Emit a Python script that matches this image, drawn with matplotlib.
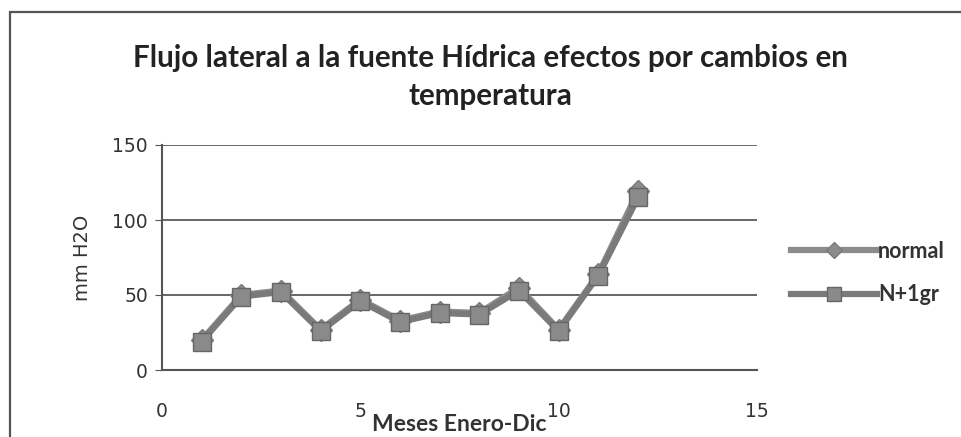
import matplotlib
matplotlib.use("Agg")
import matplotlib.pyplot as plt
from matplotlib.patches import Rectangle

# Monthly lateral flow (mm H2O), January..December
months = [1, 2, 3, 4, 5, 6, 7, 8, 9, 10, 11, 12]
normal = [20, 50, 53, 27, 47, 33, 39, 38, 55, 27, 64, 119]
n_plus_1gr = [19, 49, 52, 26, 46, 32, 38, 37, 53, 26, 63, 115]
series_labels = ["normal", "N+1gr"]
x_ticks = [0, 5, 10, 15]
y_ticks = [0, 50, 100, 150]

W, H = 961, 437
fig = plt.figure(figsize=(W / 100, H / 100), dpi=100)
fig.patch.set_facecolor("white")

# chart frame
fig.patches.append(Rectangle((10 / W, -0.1), 1.2, 1 - 12 / H + 0.1,
                             transform=fig.transFigure, fill=False,
                             edgecolor="#555555", linewidth=1.6))

ax = fig.add_axes([162 / W, 1 - 370 / H, (757 - 162) / W, (370 - 145) / H])
ax.set_xlim(0, 15)
ax.set_ylim(0, 150)
ax.set_xticks(x_ticks)
ax.set_yticks(y_ticks)

for s in ("top", "right"):
    ax.spines[s].set_visible(False)
for s in ("left", "bottom"):
    ax.spines[s].set_color("#555555")
    ax.spines[s].set_linewidth(1.5)

ax.yaxis.grid(True, color="#666666", linewidth=1.4)
ax.set_axisbelow(True)
ax.tick_params(axis="y", length=5, color="#555555", labelsize=13.5,
               labelcolor="#333333", pad=5)
ax.tick_params(axis="x", length=0, labelsize=13.5, labelcolor="#333333", pad=23)
for t in ax.get_xticklabels() + ax.get_yticklabels():
    t.set_family("DejaVu Sans")

ax.plot(months, normal, color="#8c8c8c", linewidth=4.5, marker="D",
        markersize=11, markerfacecolor="#8c8c8c", markeredgecolor="#7a7a7a",
        label=series_labels[0], clip_on=False)
ax.plot(months, n_plus_1gr, color="#7a7a7a", linewidth=4.5, marker="s",
        markersize=13, markerfacecolor="#8a8a8a", markeredgecolor="#666666",
        label=series_labels[1], clip_on=False)

ax.set_ylabel("mm H2O", family="DejaVu Sans", fontsize=14, color="#333333",
              labelpad=15)
ax.set_xlabel("Meses Enero-Dic", family="Lato", fontweight="bold",
              fontsize=16.5, color="#333333", labelpad=-5)

title_kw = dict(ha="center", va="center", family="Lato", fontweight="bold",
                fontsize=21.3, color="#222222")
fig.text(490 / W, 1 - 58 / H,
         "Flujo lateral a la fuente Hídrica efectos por cambios en", **title_kw)
fig.text(490 / W, 1 - 96 / H, "temperatura", **title_kw)

leg = ax.legend(loc="center left", bbox_to_anchor=(780 / W, 1 - 273 / H),
                bbox_transform=fig.transFigure, frameon=False,
                prop={"family": "Lato", "weight": "bold", "size": 15.5},
                handlelength=4.0, labelspacing=1.05, handletextpad=0.05,
                markerscale=0.75, borderpad=0.0)
for t in leg.get_texts():
    t.set_color("#333333")

fig.savefig("out.png", dpi=100, facecolor="white")
